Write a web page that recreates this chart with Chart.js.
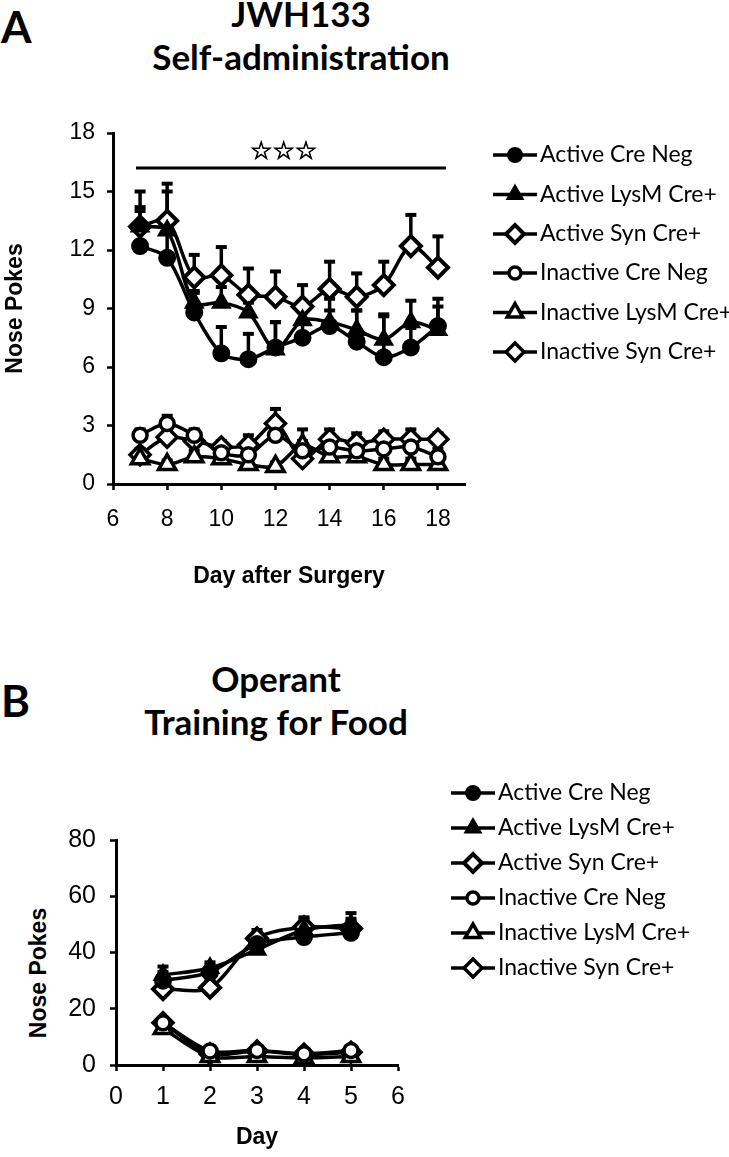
<!DOCTYPE html>
<html>
<head>
<meta charset="utf-8">
<title>JWH133 self-administration and operant training for food</title>
<script src="https://cdn.jsdelivr.net/npm/chart.js"></script>
<style>
  body { margin: 0; background: #fff; }
  #page { position: relative; width: 729px; height: 1157px; overflow: hidden; background: #fff; }
  .letter { position: absolute; font-family: Lato, sans-serif; font-weight: 700; font-size: 44px; line-height: 52px; color: #000; }
  .ptitle { position: absolute; width: 360px; text-align: center; font-family: Lato, sans-serif; font-weight: 700; font-size: 35px; line-height: 43px; color: #000; white-space: nowrap; }
  .ytitle { position: absolute; font-family: "Liberation Sans", Arial, sans-serif; font-weight: 700; font-size: 23px; white-space: nowrap; color: #000; transform: translate(-50%, -50%) rotate(-90deg); }
  canvas { position: absolute; left: 0; }
</style>
</head>
<body>
<div id="page">
  <div class="letter" style="left:1px;top:0px;">A</div>
  <div class="ptitle" style="left:121px;top:-8px;">JWH133<br>Self-administration</div>
  <canvas id="chartA" width="729" height="610" style="top:0px;"></canvas>

  <div class="letter" style="left:1px;top:674px;">B</div>
  <div class="ptitle" style="left:96px;top:657px;">Operant<br>Training for Food</div>
  <div class="ytitle" style="left:38px;top:973px;">Nose Pokes</div>
  <canvas id="chartB" width="729" height="537" style="top:620px;"></canvas>
</div>

<script>
// ---- panel A: JWH133 self-administration ----
const daysA = [7, 8, 9, 10, 11, 12, 13, 14, 15, 16, 17, 18];
const xTicksA = [6, 8, 10, 12, 14, 16, 18];
const yTicksA = [0, 3, 6, 9, 12, 15, 18];

const activeCreNegA   = [12.2, 11.6, 8.8, 6.7, 6.4, 7.0, 7.5, 8.1, 7.3, 6.5, 7.0, 8.1];
const activeLysMA     = [13.2, 13.0, 9.3, 9.3, 8.8, 6.9, 8.4, 8.3, 7.9, 7.4, 8.3, 7.9];
const activeSynA      = [13.2, 13.5, 10.6, 10.7, 9.7, 9.6, 9.1, 10.0, 9.6, 10.2, 12.2, 11.1];
const inactiveCreNegA = [2.5, 3.1, 2.5, 1.6, 1.5, 2.5, 1.7, 1.9, 1.7, 1.8, 1.9, 1.4];
const inactiveLysMA   = [1.3, 1.0, 1.4, 1.3, 1.0, 0.9, 2.0, 1.4, 1.4, 1.0, 1.0, 1.0];
const inactiveSynA    = [1.5, 2.4, 2.2, 1.9, 2.0, 3.1, 1.3, 2.3, 2.1, 2.3, 2.3, 2.3];

const activeCreNegErrA   = [1.8, 1.5, 1.0, 1.35, 1.3, 1.3, 1.3, 1.4, 1.6, 2.2, 1.0, 1.4];
const activeLysMErrA     = [1.8, 2.0, 0.6, 0.8, 0.5, 1.4, 0.9, 0.6, 1.0, 1.2, 1.1, 1.2];
const activeSynErrA      = [1.0, 1.9, 1.15, 1.45, 1.35, 1.3, 1.1, 1.4, 1.2, 1.2, 1.6, 1.6];
const inactiveCreNegErrA = [0.3, 0.4, 0.3, 0.3, 0.4, 0.4, 0.5, 0.5, 0.4, 0.4, 0.5, 0.4];
const inactiveLysMErrA   = [0.3, 0.2, 0.3, 0.3, 0.3, 0.2, 0.8, 0.4, 0.3, 0.3, 0.3, 0.2];
const inactiveSynErrA    = [0.3, 0.3, 0.5, 0.3, 0.5, 0.75, 0.4, 0.5, 0.5, 0.4, 0.5, 0.3];

// significance bar across the active groups
const sigLineX = [6.85, 18.3];
const sigLineY = 16.2;
const sigStars = { x: 12.3, y: 17.0, text: '\u2606\u2606\u2606' };

// ---- panel B: operant training for food ----
const daysB = [1, 2, 3, 4, 5];
const xTicksB = [0, 1, 2, 3, 4, 5, 6];
const yTicksB = [0, 20, 40, 60, 80];

const activeCreNegB   = [30, 33, 43, 45.5, 47];
const activeLysMB     = [32, 34.5, 41, 48, 50];
const activeSynB      = [27, 27.5, 45, 49, 48.5];
const inactiveCreNegB = [15, 5, 5.2, 4, 5.2];
const inactiveLysMB   = [13, 3, 3, 2.5, 3];
const inactiveSynB    = [15, 4, 5, 3.8, 4.5];

const activeCreNegErrB   = [3, 2.5, 2, 4, 4];
const activeLysMErrB     = [3, 2, 3, 4, 4];
const activeSynErrB      = [2.5, 3, 3, 3.5, 3.5];
const inactiveCreNegErrB = [1.2, 1, 1, 1, 1];
const inactiveLysMErrB   = [1, 0.8, 0.8, 0.8, 0.8];
const inactiveSynErrB    = [1.2, 1, 1, 1, 1];

const seriesNames = ['Active Cre Neg', 'Active LysM Cre+', 'Active Syn Cre+',
                     'Inactive Cre Neg', 'Inactive LysM Cre+', 'Inactive Syn Cre+'];

const markerStyles = [
    { pointStyle: 'circle',   radius: 8,  fill: '#000', borderWidth: 2 },
    { pointStyle: 'triangle', radius: 10, fill: '#000', borderWidth: 2 },
    { pointStyle: 'rectRot',  radius: 10, fill: '#fff', borderWidth: 4 },
    { pointStyle: 'circle',   radius: 7,  fill: '#fff', borderWidth: 3.5 },
    { pointStyle: 'triangle', radius: 10, fill: '#fff', borderWidth: 3.5 },
    { pointStyle: 'rectRot',  radius: 10, fill: '#fff', borderWidth: 3.5 }
];

const tickFont = 'Liberation Sans';

function buildDatasets(xs, seriesList, errList) {
    return seriesList.map(function(vals, i) {
        return {
            label: seriesNames[i],
            data: xs.map(function(x, j) { return { x: x, y: vals[j] }; }),
            errors: errList[i],
            legendRow: i,
            borderColor: '#000',
            borderWidth: 3.5,
            backgroundColor: markerStyles[i].fill,
            pointStyle: markerStyles[i].pointStyle,
            pointRadius: markerStyles[i].radius,
            pointBorderWidth: markerStyles[i].borderWidth,
            pointBackgroundColor: markerStyles[i].fill,
            pointBorderColor: '#000',
            tension: 0.3
        };
    });
}

function drawMarker(ctx, m, x, y) {
    ctx.save();
    ctx.fillStyle = m.fill;
    ctx.strokeStyle = '#000';
    ctx.lineWidth = m.borderWidth;
    if (Chart.helpers && Chart.helpers.drawPoint) {
        Chart.helpers.drawPoint(ctx, { pointStyle: m.pointStyle, radius: m.radius - 1, rotation: 0, borderWidth: m.borderWidth }, x, y);
    } else {
        ctx.beginPath();
        ctx.arc(x, y, m.radius, 0, Math.PI * 2);
        ctx.fill();
        ctx.stroke();
    }
    ctx.restore();
}

// upward-only error bars, drawn behind the lines
const errorBarPlugin = {
    id: 'errorBars',
    beforeDatasetsDraw(chart) {
        const ctx = chart.ctx;
        const yScale = chart.scales.y;
        ctx.save();
        ctx.strokeStyle = '#000';
        chart.data.datasets.forEach(function(ds, i) {
            if (!ds.errors) return;
            const meta = chart.getDatasetMeta(i);
            meta.data.forEach(function(pt, j) {
                const err = ds.errors[j];
                if (!err) return;
                const top = yScale.getPixelForValue(ds.data[j].y + err);
                ctx.lineWidth = 3.5;
                ctx.beginPath();
                ctx.moveTo(pt.x, pt.y);
                ctx.lineTo(pt.x, top);
                ctx.stroke();
                ctx.lineWidth = 4;
                ctx.beginPath();
                ctx.moveTo(pt.x - 5.5, top);
                ctx.lineTo(pt.x + 5.5, top);
                ctx.stroke();
            });
        });
        ctx.restore();
    }
};

// legend with a short line through each marker
const lineLegendPlugin = {
    id: 'lineLegend',
    afterDraw(chart, args, opts) {
        if (!opts || !opts.rows) return;
        const ctx = chart.ctx;
        chart.data.datasets.forEach(function(ds) {
            if (ds.legendRow === undefined) return;
            const y = opts.rows[ds.legendRow];
            ctx.save();
            ctx.strokeStyle = '#000';
            ctx.lineWidth = 3.5;
            ctx.beginPath();
            ctx.moveTo(opts.lineStart, y);
            ctx.lineTo(opts.lineEnd, y);
            ctx.stroke();
            ctx.restore();
            drawMarker(ctx, markerStyles[ds.legendRow], opts.markerX, y);
            ctx.save();
            ctx.fillStyle = '#000';
            ctx.font = opts.font;
            ctx.textBaseline = 'middle';
            ctx.textAlign = 'left';
            ctx.fillText(ds.label, opts.textX, y);
            ctx.restore();
        });
    }
};

const starsPlugin = {
    id: 'stars',
    afterDatasetsDraw(chart, args, opts) {
        if (!opts || !opts.text) return;
        const ctx = chart.ctx;
        const x = chart.scales.x.getPixelForValue(opts.x);
        const y = chart.scales.y.getPixelForValue(opts.y);
        ctx.save();
        ctx.fillStyle = '#000';
        ctx.strokeStyle = '#000';
        ctx.lineWidth = 0.8;
        ctx.font = opts.font;
        ctx.textAlign = 'center';
        ctx.textBaseline = 'middle';
        ctx.fillText(opts.text, x, y);
        ctx.strokeText(opts.text, x, y);
        ctx.restore();
    }
};

function axisOptions(cfg) {
    return {
        type: 'linear',
        min: cfg.min,
        max: cfg.max,
        afterBuildTicks: function(scale) {
            scale.ticks = cfg.ticks.map(function(v) { return { value: v }; });
        },
        afterFit: function(scale) {
            if (cfg.width !== undefined) scale.width = cfg.width;
            if (cfg.height !== undefined) scale.height = cfg.height;
        },
        ticks: {
            color: '#000',
            padding: cfg.tickPadding,
            maxRotation: 0,
            autoSkip: false,
            font: { family: tickFont, size: cfg.tickSize }
        },
        grid: {
            display: true,
            drawOnChartArea: false,
            drawTicks: true,
            tickLength: 6,
            tickWidth: 2.5,
            tickColor: '#000',
            color: '#000'
        },
        border: { display: true, color: '#000', width: 3 },
        title: {
            display: !!cfg.title,
            text: cfg.title || '',
            color: '#000',
            font: { family: tickFont, size: 23, weight: 'bold' },
            padding: cfg.titlePadding || 0
        }
    };
}

Chart.defaults.color = '#000';

const datasetsA = buildDatasets(daysA,
    [activeCreNegA, activeLysMA, activeSynA, inactiveCreNegA, inactiveLysMA, inactiveSynA],
    [activeCreNegErrA, activeLysMErrA, activeSynErrA, inactiveCreNegErrA, inactiveLysMErrA, inactiveSynErrA]);

datasetsA.push({
    label: 'significance',
    data: sigLineX.map(function(x) { return { x: x, y: sigLineY }; }),
    borderColor: '#000',
    borderWidth: 3,
    pointRadius: 0,
    tension: 0
});

new Chart(document.getElementById('chartA'), {
    type: 'line',
    data: { datasets: datasetsA },
    options: {
        responsive: false,
        animation: false,
        layout: { padding: { top: 133, right: 264, left: 0, bottom: 0 } },
        plugins: {
            legend: { display: false },
            tooltip: { enabled: false },
            lineLegend: {
                rows: [155, 194.5, 234, 273, 312.5, 352],
                lineStart: 493, lineEnd: 537, markerX: 515, textX: 540,
                font: '23px Lato'
            },
            stars: { text: sigStars.text, x: sigStars.x, y: sigStars.y, font: 'bold 25px "DejaVu Sans"' }
        },
        scales: {
            x: axisOptions({ min: 6, max: 19, ticks: xTicksA, height: 126, tickPadding: 16, tickSize: 23,
                title: 'Day after Surgery', titlePadding: { top: 0, bottom: 20 } }),
            y: axisOptions({ min: 0, max: 18, ticks: yTicksA, width: 113, tickPadding: 12, tickSize: 23,
                title: 'Nose Pokes', titlePadding: { top: 2, bottom: 0 } })
        }
    },
    plugins: [errorBarPlugin, lineLegendPlugin, starsPlugin]
});

const datasetsB = buildDatasets(daysB,
    [activeCreNegB, activeLysMB, activeSynB, inactiveCreNegB, inactiveLysMB, inactiveSynB],
    [activeCreNegErrB, activeLysMErrB, activeSynErrB, inactiveCreNegErrB, inactiveLysMErrB, inactiveSynErrB]);

new Chart(document.getElementById('chartB'), {
    type: 'line',
    data: { datasets: datasetsB },
    options: {
        responsive: false,
        animation: false,
        layout: { padding: { top: 220, right: 331, left: 0, bottom: 0 } },
        plugins: {
            legend: { display: false },
            tooltip: { enabled: false },
            lineLegend: {
                rows: [173, 208, 243, 278, 313, 348],
                lineStart: 451, lineEnd: 495, markerX: 473, textX: 498,
                font: '23px Lato'
            }
        },
        scales: {
            x: axisOptions({ min: 0, max: 6, ticks: xTicksB, height: 92, tickPadding: 11, tickSize: 25,
                title: 'Day', titlePadding: { top: 0, bottom: 6 } }),
            y: axisOptions({ min: 0, max: 80, ticks: yTicksB, width: 116, tickPadding: 14, tickSize: 25 })
        }
    },
    plugins: [errorBarPlugin, lineLegendPlugin]
});
</script>
</body>
</html>
